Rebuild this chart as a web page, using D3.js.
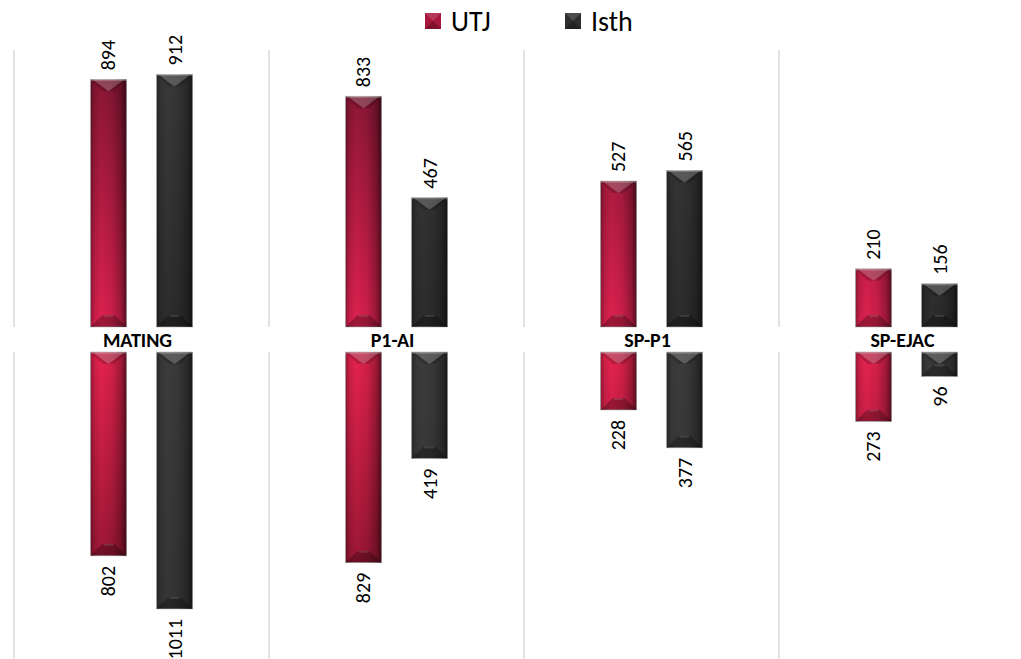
<!DOCTYPE html>
<html>
<head>
<meta charset="UTF-8">
<script src="https://d3js.org/d3.v7.min.js"></script>
<style>
  body { margin: 0; background: #fff; }
  text { font-family: Calibri, Carlito, Lato, sans-serif; }
</style>
</head>
<body>
<script>
const categories = ["MATING", "P1-AI", "SP-P1", "SP-EJAC"];
const series = ["UTJ", "Isth"];
const upperUTJ = [894, 833, 527, 210];
const upperIsth = [912, 467, 565, 156];
const lowerUTJ = [802, 829, 228, 273];
const lowerIsth = [1011, 419, 377, 96];

const width = 1021, height = 659;
const svg = d3.select("body").append("svg")
  .attr("width", width).attr("height", height);

const defs = svg.append("defs");

// horizontal shading over every bar
const hs = defs.append("linearGradient").attr("id", "hshade")
  .attr("x1", 0).attr("x2", 1).attr("y1", 0).attr("y2", 0);
[[0, 0.35], [0.12, 0.1], [0.3, 0], [0.6, 0.08], [0.85, 0.3], [1, 0.6]]
  .forEach(([o, a]) => hs.append("stop").attr("offset", o).attr("stop-color", "#000").attr("stop-opacity", a));

// vertical fills per panel (bright near the baseline)
function vgrad(id, y1, y2, c1, c2) {
  const g = defs.append("linearGradient").attr("id", id)
    .attr("gradientUnits", "userSpaceOnUse")
    .attr("x1", 0).attr("x2", 0).attr("y1", y1).attr("y2", y2);
  g.append("stop").attr("offset", 0).attr("stop-color", c1);
  g.append("stop").attr("offset", 1).attr("stop-color", c2);
}
vgrad("utjUp", 50, 327, "#7e1530", "#de2150");
vgrad("utjDn", 352, 657, "#e6234f", "#7a1129");
vgrad("isthUp", 50, 327, "#3a3a3a", "#2c2c2c");
vgrad("isthDn", 352, 657, "#3c3c3c", "#333333");

const x0 = d3.scaleBand().domain(categories).range([14, 1034]);
const x1 = d3.scaleBand().domain(series).range([0, x0.bandwidth()])
  .paddingInner(30 / 66).paddingOuter(1.159);

const yUp = d3.scaleLinear().domain([0, 1000]).range([327, 50]);
const yDn = d3.scaleLinear().domain([0, 1200]).range([352, 657]);

// category separators
const seps = categories.map(c => x0(c));
svg.selectAll("line.gu").data(seps).enter().append("line")
  .attr("x1", d => d).attr("x2", d => d)
  .attr("y1", yUp(1000)).attr("y2", yUp(0))
  .attr("stroke", "#e3e3e3").attr("stroke-width", 2);
svg.selectAll("line.gd").data(seps).enter().append("line")
  .attr("x1", d => d).attr("x2", d => d)
  .attr("y1", yDn(0)).attr("y2", height)
  .attr("stroke", "#e3e3e3").attr("stroke-width", 2);

function rows(up, si, arr) {
  return categories.map((c, i) => ({ cat: c, s: series[si], v: arr[i], up }));
}
const data = [
  ...rows(true, 0, upperUTJ), ...rows(true, 1, upperIsth),
  ...rows(false, 0, lowerUTJ), ...rows(false, 1, lowerIsth)
];

const bw = x1.bandwidth();
const bev = 12;
data.forEach(d => {
  const x = x0(d.cat) + x1(d.s);
  const y = d.up ? yUp(0) : yDn(0);
  const yEnd = d.up ? yUp(d.v) : yDn(d.v);
  const t = Math.min(y, yEnd), b = Math.max(y, yEnd), h = b - t;
  const fill = (d.s === "UTJ" ? "utj" : "isth") + (d.up ? "Up" : "Dn");
  const g = svg.append("g");
  g.append("rect").attr("x", x).attr("y", t).attr("width", bw).attr("height", h)
    .attr("fill", `url(#${fill})`).attr("stroke", "#c8c8c8").attr("stroke-width", 0.8);
  g.append("rect").attr("x", x).attr("y", t).attr("width", bw).attr("height", h)
    .attr("fill", "url(#hshade)");
  const e = Math.min(bev, h / 2);
  // top bevel
  g.append("path").attr("d", `M${x},${t}L${x + bw},${t}L${x + bw - e},${t + e}L${x + e},${t + e}Z`)
    .attr("fill", "#000").attr("fill-opacity", 0.18);
  g.append("path").attr("d", `M${x + 3},${t + 1}L${x + bw - 3},${t + 1}L${x + bw / 2},${t + e}Z`)
    .attr("fill", "#fff").attr("fill-opacity", 0.22);
  g.append("rect").attr("x", x).attr("y", t).attr("width", bw).attr("height", 1.5)
    .attr("fill", "#fff").attr("fill-opacity", 0.3);
  // bottom bevel
  g.append("path").attr("d", `M${x},${b}L${x + bw},${b}L${x + bw - e},${b - e}L${x + e},${b - e}Z`)
    .attr("fill", "#000").attr("fill-opacity", 0.28);
  g.append("path").attr("d", `M${x + e},${b - e}L${x + bw - e},${b - e}L${x + bw - e - 2},${b - e + 2}L${x + e + 2},${b - e + 2}Z`)
    .attr("fill", "#fff").attr("fill-opacity", 0.12);

  // value label
  const cx = x + bw / 2;
  const ly = d.up ? t - 9 : b + 10;
  svg.append("text")
    .attr("transform", `translate(${cx + 7},${ly}) rotate(-90)`)
    .attr("text-anchor", d.up ? "start" : "end")
    .attr("font-size", 20).attr("fill", "#000")
    .text(d.v);
});

// category labels between the panels
svg.selectAll("text.cat").data(categories).enter().append("text")
  .attr("x", d => x0(d) + x0.bandwidth() / 2 - 4)
  .attr("y", 347)
  .attr("text-anchor", "middle")
  .attr("font-size", 20).attr("font-weight", "bold")
  .text(d => d);

// legend
const legX = [425, 565];
series.forEach((s, i) => {
  const lg = svg.append("g").attr("transform", `translate(${legX[i]},13)`);
  const c = i === 0 ? "#a8183c" : "#2e2e2e";
  lg.append("rect").attr("width", 16).attr("height", 16).attr("fill", c);
  lg.append("path").attr("d", "M0,0L16,0L8,8Z").attr("fill", "#fff").attr("fill-opacity", 0.15);
  lg.append("path").attr("d", "M0,16L16,16L8,8Z").attr("fill", "#000").attr("fill-opacity", 0.25);
  lg.append("text").attr("x", 26).attr("y", 18)
    .attr("font-size", 28).text(s);
});
</script>
</body>
</html>
